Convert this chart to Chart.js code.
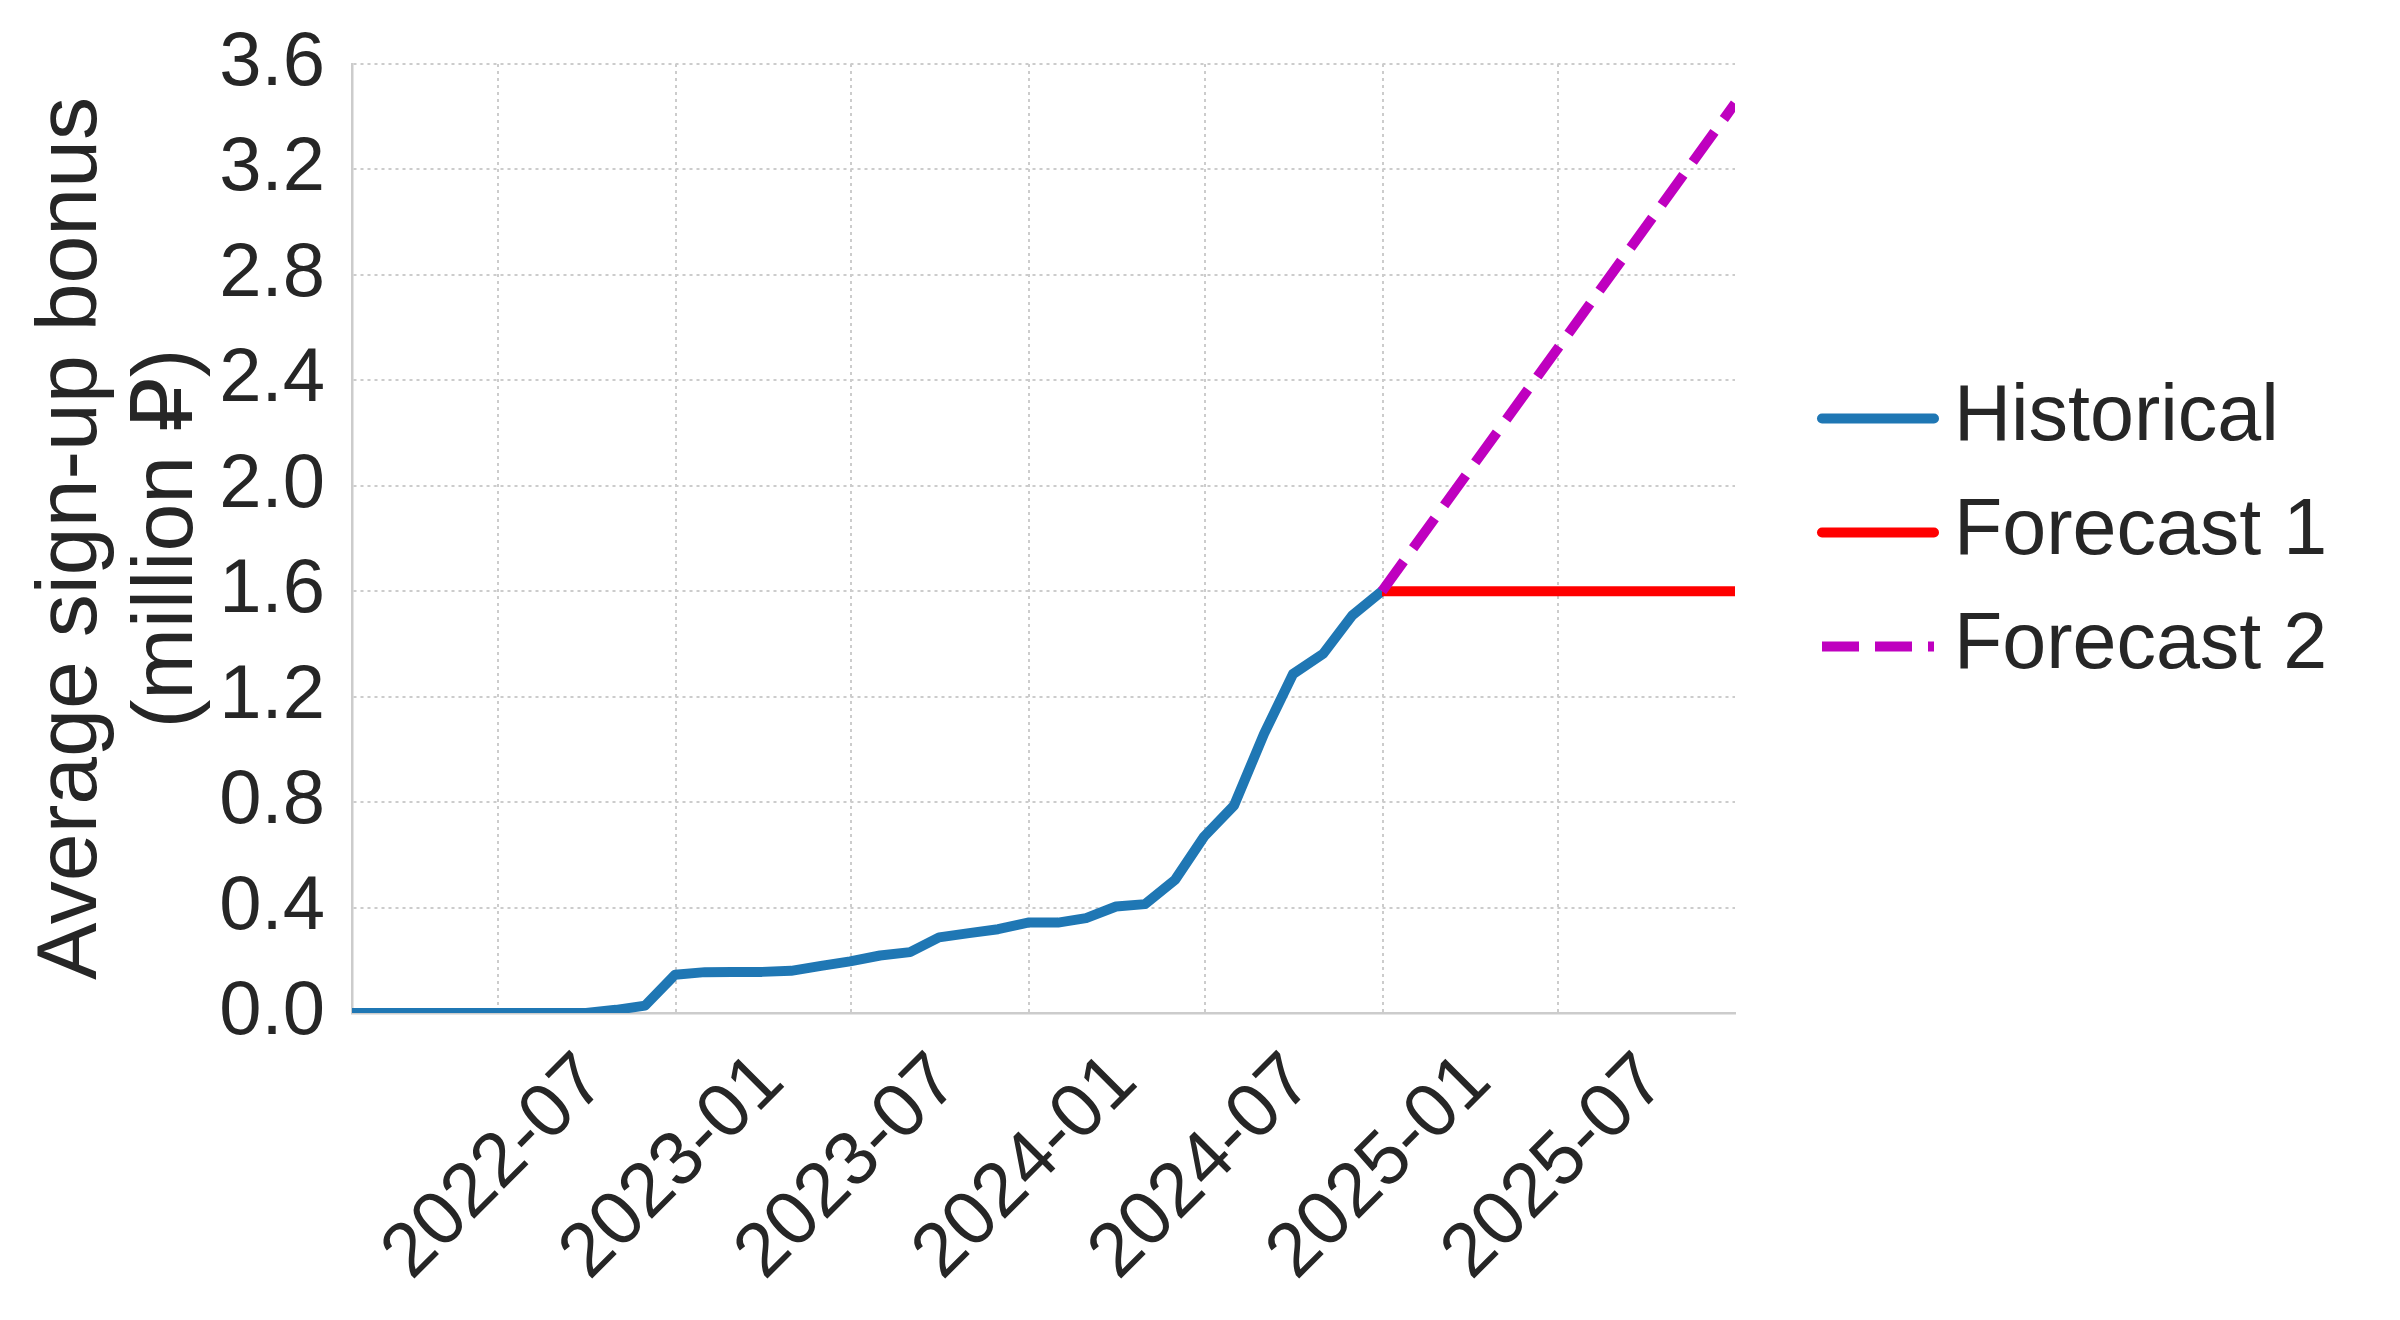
<!DOCTYPE html>
<html>
<head>
<meta charset="utf-8">
<script src="https://cdn.jsdelivr.net/npm/chart.js@4.4.1/dist/chart.umd.min.js"></script>
<style>
html, body { margin: 0; padding: 0; background: #fff; }
</style>
</head>
<body>
<canvas id="trend" width="2400" height="1320"></canvas>
<script>
// data (month-end points)
const histMonths = ['2022-01','2022-02','2022-03','2022-04','2022-05','2022-06','2022-07','2022-08','2022-09','2022-10','2022-11','2022-12',
                    '2023-01','2023-02','2023-03','2023-04','2023-05','2023-06','2023-07','2023-08','2023-09','2023-10','2023-11','2023-12',
                    '2024-01','2024-02','2024-03','2024-04','2024-05','2024-06','2024-07','2024-08','2024-09','2024-10','2024-11','2024-12'];
const histValues = [0, 0, 0, 0, 0, 0, 0, 0, 0, 0.012, 0.028, 0.145,
                    0.155, 0.156, 0.156, 0.16, 0.179, 0.196, 0.218, 0.231, 0.287, 0.303, 0.318, 0.343,
                    0.343, 0.36, 0.404, 0.413, 0.505, 0.669, 0.787, 1.059, 1.286, 1.362, 1.507, 1.6];
const fcMonths = ['2024-12', '2025-12'];
const fc1Values = [1.6, 1.6];
const fc2Values = [1.6, 3.45];
const xTickLabels = ['2022-07', '2023-01', '2023-07', '2024-01', '2024-07', '2025-01', '2025-07'];
const yTitle = ['Average sign-up bonus', '(million \u20BD)'];

const DAY = 86400000;
const FONT = '"Liberation Sans", Arial, "DejaVu Sans", sans-serif';
const TXT = '#262626';

function monthEnd(m) {
    let p = m.split('-');
    return Date.UTC(+p[0], +p[1], 0) / DAY;
}
function monthStart(m) {
    let p = m.split('-');
    return Date.UTC(+p[0], +p[1] - 1, 1) / DAY;
}
function points(months, values) {
    return months.map(function(m, i) { return { x: monthEnd(m), y: values[i] }; });
}

// legend drawn by hand so it sits like the original
const sideLegend = {
    id: 'sideLegend',
    afterDraw(chart) {
        let c = chart.ctx,
            area = chart.chartArea,
            x1 = area.right + 87,
            x2 = x1 + 112,
            y = (area.top + area.bottom) / 2 - 120;
        chart.data.datasets.forEach(function(ds) {
            c.save();
            c.strokeStyle = ds.borderColor;
            c.lineWidth = ds.borderWidth;
            c.setLineDash(ds.borderDash || []);
            c.lineCap = ds.borderDash ? 'butt' : 'round';
            c.beginPath();
            c.moveTo(x1, y);
            c.lineTo(x2, y);
            c.stroke();
            c.fillStyle = TXT;
            c.font = '79px ' + FONT;
            c.textBaseline = 'middle';
            c.textAlign = 'left';
            c.fillText(ds.label, x2 + 20, y);
            c.restore();
            y += 114;
        });
    }
};

const lineBase = {
    borderWidth: 10,
    pointRadius: 0,
    fill: false,
    tension: 0,
    clip: 0,
    borderJoinStyle: 'round',
    borderCapStyle: 'butt'
};

var ctx = document.getElementById('trend').getContext('2d');
var chart = new Chart(ctx, {
    type: 'line',
    data: {
        datasets: [
            Object.assign({}, lineBase, { label: 'Historical', data: points(histMonths, histValues), borderColor: '#1f77b4', order: 3 }),
            Object.assign({}, lineBase, { label: 'Forecast 1', data: points(fcMonths, fc1Values), borderColor: '#ff0000', order: 2 }),
            Object.assign({}, lineBase, { label: 'Forecast 2', data: points(fcMonths, fc2Values), borderColor: '#bf00bf', borderDash: [37, 16], order: 1 })
        ]
    },
    options: {
        responsive: false,
        animation: false,
        devicePixelRatio: 1,
        layout: { padding: { left: 24, right: 665, top: 64, bottom: 0 } },
        plugins: {
            legend: { display: false },
            tooltip: { enabled: false }
        },
        scales: {
            x: {
                type: 'linear',
                min: monthEnd(histMonths[0]),
                max: monthEnd(fcMonths[fcMonths.length - 1]),
                afterBuildTicks: function(scale) {
                    scale.ticks = xTickLabels.map(function(l) { return { value: monthStart(l) }; });
                },
                afterFit: function(scale) {
                    scale.height = 307;
                    scale.paddingLeft = 0;
                    scale.paddingRight = 0;
                },
                grid: { color: '#cccccc', lineWidth: 2, drawTicks: false },
                border: { display: true, color: '#cccccc', width: 2.5, dash: [3, 4] },
                ticks: {
                    autoSkip: false,
                    maxRotation: 45,
                    minRotation: 45,
                    padding: 24,
                    labelOffset: 96,
                    color: TXT,
                    font: { family: FONT, size: 76 },
                    callback: function(value, i) { return xTickLabels[i]; }
                }
            },
            y: {
                min: 0,
                max: 3.6,
                afterFit: function(scale) {
                    scale.width = 328;
                    scale.paddingTop = 0;
                    scale.paddingBottom = 0;
                },
                grid: { color: '#cccccc', lineWidth: 2, drawTicks: false },
                border: { display: true, color: '#cccccc', width: 2.5, dash: [3, 4] },
                ticks: {
                    stepSize: 0.4,
                    padding: 27,
                    color: TXT,
                    font: { family: FONT, size: 76 },
                    callback: function(v) { return v.toFixed(1); }
                },
                title: {
                    display: true,
                    text: yTitle,
                    color: TXT,
                    font: { family: FONT, size: 86, lineHeight: 1.12 },
                    padding: { top: 0, bottom: 3 }
                }
            }
        }
    },
    plugins: [sideLegend]
});
</script>
</body>
</html>
